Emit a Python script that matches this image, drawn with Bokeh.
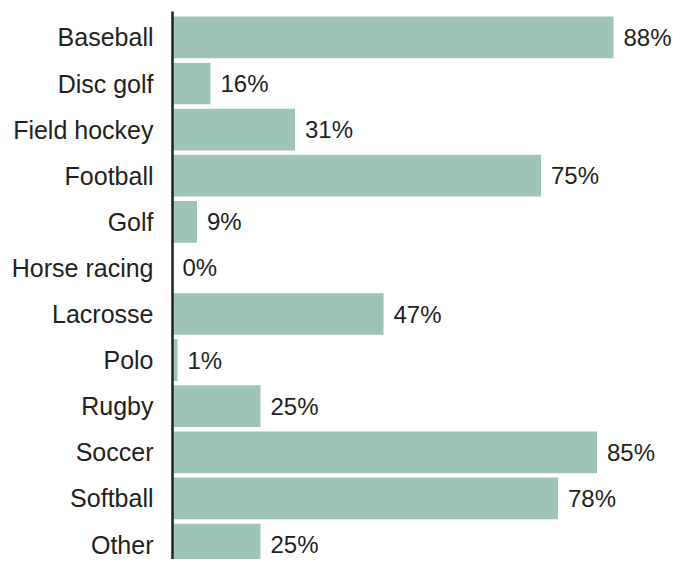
from bokeh.plotting import figure
from bokeh.models import Range1d, FixedTicker
from bokeh.core.properties import value
from bokeh.embed import file_html
from bokeh.resources import INLINE

categories = ["Baseball", "Disc golf", "Field hockey", "Football", "Golf", "Horse racing",
              "Lacrosse", "Polo", "Rugby", "Soccer", "Softball", "Other"]
bar_values = [88.2, 7.6, 24.5, 73.7, 4.9, 0.0, 42.2, 1.0, 17.6, 84.9, 77.1, 17.6]
value_labels = ["88%", "16%", "31%", "75%", "9%", "0%", "47%", "1%", "25%", "85%", "78%", "25%"]

idx = list(range(len(categories)))
FONT = "Liberation Sans"

p = figure(width=675, height=559, output_backend="svg", toolbar_location=None,
           x_range=Range1d(0, 100.6), y_range=Range1d(11.325, -0.562),
           x_axis_location=None, min_border_left=172, min_border_right=0,
           min_border_top=11, min_border_bottom=0)
p.outline_line_color = None
p.xgrid.visible = False
p.ygrid.visible = False

p.hbar(y=idx, left=0, right=bar_values, height=0.905, color="#9dc4b6", line_color=None)
p.text(x=bar_values, y=idx, text=value_labels, x_offset=10, text_baseline="middle",
       text_align="left", text_font=value(FONT), text_font_size="24px", text_color="#231f20")

ax = p.yaxis[0]
ax.ticker = FixedTicker(ticks=idx)
ax.major_label_overrides = {i: c for i, c in zip(idx, categories)}
ax.major_tick_line_color = None
ax.minor_tick_line_color = None
ax.axis_line_color = "#231f20"
ax.axis_line_width = 2.5
ax.major_label_standoff = 13
ax.major_label_text_font = FONT
ax.major_label_text_font_size = "25px"
ax.major_label_text_color = "#231f20"

open("out.html", "w").write(file_html(p, INLINE))
